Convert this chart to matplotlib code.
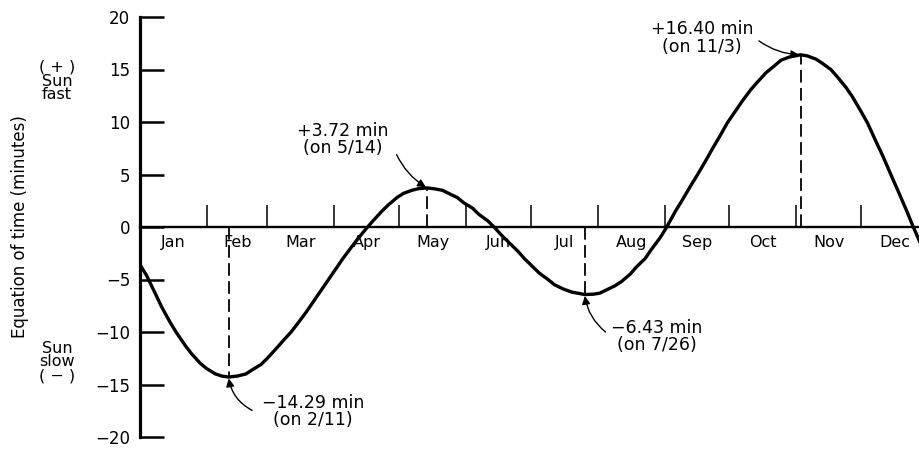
import matplotlib
matplotlib.use("Agg")
import matplotlib.pyplot as plt

plt.rcParams['font.family'] = ['DejaVu Sans']

# Equation of time, minutes (sun fast +), by day of year (Jan 1 = 0)
days = [0, 3, 7, 10, 14, 17, 21, 24, 28,
        31, 35, 38, 41, 45, 49, 52, 56,
        59, 63, 66, 70, 73, 77, 80, 84, 87,
        91, 94, 98, 101, 105, 108, 112, 115, 119,
        122, 126, 129, 133, 136, 140, 143, 147, 150,
        154, 157, 161, 164, 168, 171, 175, 178,
        182, 185, 189, 192, 196, 200, 206, 210,
        213, 216, 220, 223, 227, 230, 234, 237, 241,
        244, 248, 251, 255, 258, 262, 265, 269, 272,
        276, 279, 283, 286, 290, 293, 297, 301,
        306, 309, 313, 316, 320, 323, 327, 330,
        334, 337, 341, 344, 348, 351, 355, 358, 362]
eot = [-3.6, -4.6, -6.3, -7.6, -9.1, -10.1, -11.3, -12.1, -13.0,
       -13.5, -14.0, -14.2, -14.29, -14.2, -14.0, -13.6, -13.1,
       -12.5, -11.6, -10.9, -10.0, -9.2, -8.1, -7.2, -6.0, -5.1,
       -3.9, -3.0, -1.9, -1.1, -0.1, 0.6, 1.5, 2.1, 2.8,
       3.2, 3.5, 3.65, 3.72, 3.65, 3.5, 3.2, 2.8, 2.3,
       1.8, 1.2, 0.6, 0.0, -0.9, -1.5, -2.3, -3.0,
       -3.8, -4.4, -5.0, -5.5, -5.9, -6.2, -6.43, -6.4,
       -6.3, -6.0, -5.6, -5.2, -4.5, -3.8, -3.0, -2.1, -1.0,
       0.0, 1.5, 2.5, 3.9, 4.9, 6.3, 7.4, 8.8, 9.9,
       11.1, 12.0, 13.1, 13.8, 14.7, 15.2, 15.9, 16.2,
       16.40, 16.3, 16.0, 15.6, 15.0, 14.3, 13.3, 12.4,
       11.0, 9.9, 8.1, 6.8, 4.9, 3.5, 1.6, 0.1, -1.8]

months = ['Jan', 'Feb', 'Mar', 'Apr', 'May', 'Jun', 'Jul', 'Aug', 'Sep', 'Oct', 'Nov', 'Dec']
month_starts = [0, 31, 59, 90, 120, 151, 181, 212, 243, 273, 304, 334, 365]

# extremes: day, value, label
ext_days = [41, 133, 206, 306]
ext_vals = [-14.29, 3.72, -6.43, 16.40]
ext_labels = ['\u221214.29 min\n(on 2/11)', '+3.72 min\n(on 5/14)',
              '\u22126.43 min\n(on 7/26)', '+16.40 min\n(on 11/3)']
# arrow tail and text offsets (points) relative to each extreme
arrow_off = [(17, -24), (-22, 24), (15, -27), (-30, 10)]
text_off = [(61, -25), (-61, 35), (52, -30), (-71, 12)]
arrow_rad = [-0.25, 0.15, -0.2, 0.15]

fig = plt.figure(figsize=(9.2, 4.51), dpi=100)
ax = fig.add_axes([140 / 920, 14 / 451, 1 - 140 / 920, 420 / 451])

ax.plot(days, eot, color='black', lw=2.4, solid_capstyle='round', solid_joinstyle='round')

for d, v in zip(ext_days, ext_vals):
    ax.plot([d, d], [0, v], color='black', lw=1.3, ls=(0, (7, 3)))

for d, v, lab, ao, to, r in zip(ext_days, ext_vals, ext_labels, arrow_off, text_off, arrow_rad):
    ax.annotate('', xy=(d, v), xytext=ao, textcoords='offset points',
                arrowprops=dict(arrowstyle='-|>', color='black', lw=1.0,
                                mutation_scale=12, shrinkA=0, shrinkB=1,
                                connectionstyle=f'arc3,rad={r}'))
    ax.annotate(lab, xy=(d, v), xytext=to, textcoords='offset points',
                ha='center', va='center', fontsize=12.5, linespacing=0.95)

ax.set_xlim(0, 361.3)
ax.set_ylim(-20, 20)

for s in ['top', 'right']:
    ax.spines[s].set_visible(False)
ax.spines['bottom'].set_position(('data', 0))
ax.spines['bottom'].set_linewidth(1.7)
ax.spines['left'].set_linewidth(2.3)

ax.set_yticks([-20, -15, -10, -5, 0, 5, 10, 15, 20])
ax.tick_params(axis='y', direction='in', length=17, width=1.8, labelsize=12, pad=7)

ax.set_xticks(month_starts[1:-1])
ax.set_xticklabels([])
ax.set_xticks([(a + b) / 2 for a, b in zip(month_starts[:-1], month_starts[1:])], minor=True)
ax.set_xticklabels(months, minor=True)
ax.tick_params(axis='x', which='major', direction='in', length=16, width=1.1)
ax.tick_params(axis='x', which='minor', length=0, labelsize=11.5, pad=6)

ax.set_ylabel('Equation of time (minutes)', fontsize=12, labelpad=48)
fig.text(57 / 920, 1 - 81 / 451, '( + )\nSun\nfast', ha='center', va='center', fontsize=11.5, linespacing=0.9)
fig.text(57 / 920, 1 - 362 / 451, 'Sun\nslow\n( \u2212 )', ha='center', va='center', fontsize=11.5, linespacing=0.9)

fig.savefig('out.png', dpi=100)
